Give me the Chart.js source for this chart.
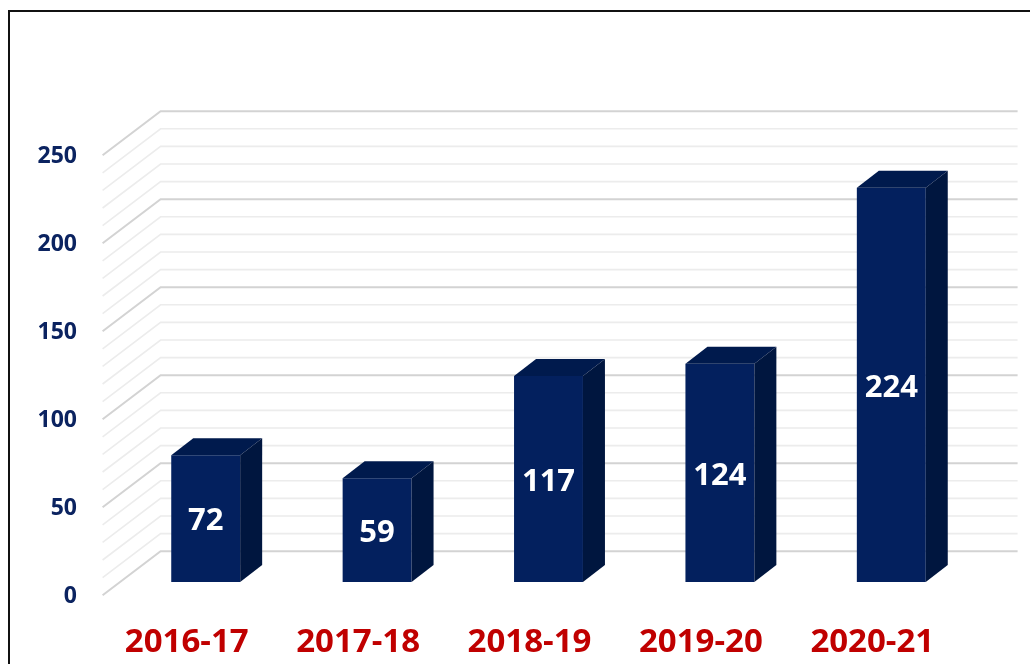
<!DOCTYPE html>
<html>
<head>
<meta charset="utf-8">
<script src="https://cdn.jsdelivr.net/npm/chart.js@4.4.1/dist/chart.umd.min.js"></script>
<style>
  html, body { margin: 0; padding: 0; background: #ffffff; overflow: hidden; }
  #wrap { position: relative; width: 1030px; height: 664px; }
  #frame { position: absolute; left: 8px; top: 10px; width: 1060px; height: 700px; border: 2px solid #111; box-sizing: border-box; pointer-events: none; }
  canvas { position: absolute; left: 0; top: 0; }
</style>
</head>
<body>
<div id="wrap">
  <canvas id="c" width="1030" height="664"></canvas>
  <div id="frame"></div>
</div>
<script>
const categories = ['2016-17', '2017-18', '2018-19', '2019-20', '2020-21'];
const values = [72, 59, 117, 124, 224];
const yTicks = [0, 50, 100, 150, 200, 250];

// 3D geometry (floor depth and bar position within it)
const DEPTH_DX = 58, DEPTH_DY = 44;      // total floor depth
const BAR_POS = 0.3;                      // bar front face position along depth
const BAR_DEPTH_DX = 22, BAR_DEPTH_DY = 17;

const threeD = {
  id: 'threeD',
  beforeDatasetsDraw(chart) {
    const ctx = chart.ctx;
    const y = chart.scales.y, area = chart.chartArea;
    const fx = BAR_POS * DEPTH_DX, fy = BAR_POS * DEPTH_DY;
    const bx = (1 - BAR_POS) * DEPTH_DX, by = (1 - BAR_POS) * DEPTH_DY;
    const leftFront = area.left - fx;
    const leftBack = area.left + bx;
    const rightBack = area.right + bx;
    ctx.save();
    for (let v = 0; v <= 250; v += 10) {
      const py = y.getPixelForValue(v);
      const major = v % 50 === 0;
      ctx.strokeStyle = major ? '#d3d3d3' : '#ececec';
      ctx.lineWidth = major ? 2 : 1.6;
      ctx.beginPath();
      ctx.moveTo(leftFront, py + fy);
      ctx.lineTo(leftBack, py - by);
      ctx.lineTo(rightBack, py - by);
      ctx.stroke();
    }
    ctx.restore();
  },
  afterDatasetsDraw(chart) {
    const ctx = chart.ctx;
    const meta = chart.getDatasetMeta(0);
    ctx.save();
    meta.data.forEach((bar, i) => {
      const p = bar.getProps(['x', 'y', 'base', 'width'], true);
      const l = p.x - p.width / 2, r = p.x + p.width / 2;
      const t = p.y, b = p.base;
      // top face
      ctx.fillStyle = '#001a4d';
      ctx.beginPath();
      ctx.moveTo(l, t);
      ctx.lineTo(l + BAR_DEPTH_DX, t - BAR_DEPTH_DY);
      ctx.lineTo(r + BAR_DEPTH_DX, t - BAR_DEPTH_DY);
      ctx.lineTo(r, t);
      ctx.closePath();
      ctx.fill();
      // side face
      ctx.fillStyle = '#00163f';
      ctx.beginPath();
      ctx.moveTo(r, t);
      ctx.lineTo(r + BAR_DEPTH_DX, t - BAR_DEPTH_DY);
      ctx.lineTo(r + BAR_DEPTH_DX, b - BAR_DEPTH_DY);
      ctx.lineTo(r, b);
      ctx.closePath();
      ctx.fill();
      // value label
      ctx.fillStyle = '#ffffff';
      ctx.font = 'bold 31px "Open Sans", "Liberation Sans", sans-serif';
      ctx.textAlign = 'center';
      ctx.textBaseline = 'middle';
      ctx.fillText(String(values[i]), p.x, (t + b) / 2 + 3);
    });
    ctx.restore();
  }
};

new Chart(document.getElementById('c'), {
  type: 'bar',
  data: {
    labels: categories,
    datasets: [{
      data: values,
      backgroundColor: '#03205e',
      borderWidth: 0,
      categoryPercentage: 1,
      barPercentage: 69 / 171.6
    }]
  },
  options: {
    responsive: false,
    animation: false,
    devicePixelRatio: 1,
    layout: { padding: { top: 142, right: 53, bottom: 0, left: 0 } },
    plugins: { legend: { display: false }, tooltip: { enabled: false } },
    scales: {
      x: {
        grid: { display: false, drawTicks: false },
        border: { display: false },
        ticks: {
          color: '#c00000',
          font: { family: '"Open Sans", "Liberation Sans", sans-serif', size: 33, weight: 'bold' },
          padding: 41,
          labelOffset: -19,
          maxRotation: 0
        },
        afterFit(scale) { scale.height = 82; }
      },
      y: {
        min: 0, max: 250,
        afterBuildTicks(scale) { scale.ticks = yTicks.map(v => ({ value: v })); },
        grid: { display: false, drawTicks: false },
        border: { display: false },
        ticks: {
          color: '#0b2360',
          font: { family: '"Open Sans", "Liberation Sans", sans-serif', size: 23, weight: 'bold' },
          padding: 43,
          labelOffset: 14
        },
        afterFit(scale) { scale.width = 120; }
      }
    }
  },
  plugins: [threeD]
});
</script>
</body>
</html>
